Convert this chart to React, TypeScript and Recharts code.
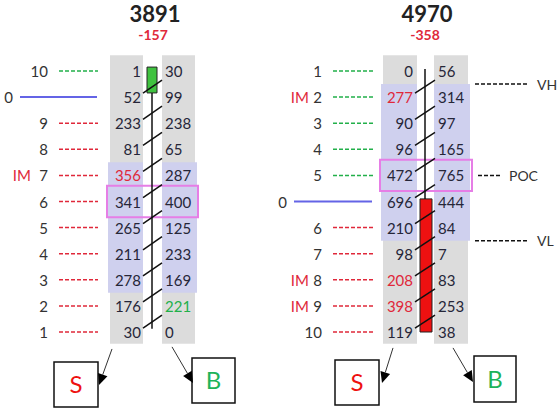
import React from "react";
import { ComposedChart, XAxis, YAxis, ReferenceArea, ReferenceLine, Scatter } from "recharts";

// footprint rows, top row first: sell volume / buy volume
const leftSell = [1, 52, 233, 81, 356, 341, 265, 211, 278, 176, 30];
const leftBuy = [30, 99, 238, 65, 287, 400, 125, 233, 169, 221, 0];
const rightSell = [0, 277, 90, 96, 472, 696, 210, 98, 208, 398, 119];
const rightBuy = [56, 314, 97, 165, 765, 444, 84, 7, 83, 253, 38];

// level captions on the left of each footprint
const leftLevels = ["10", "0", "9", "8", "7", "6", "5", "4", "3", "2", "1"];
const rightLevels = ["1", "2", "3", "4", "5", "0", "6", "7", "8", "9", "10"];
const leftKinds = ["up", "zero", "down", "down", "down", "down", "down", "down", "down", "down", "down"];
const rightKinds = ["up", "up", "up", "up", "up", "zero", "down", "down", "down", "down", "down"];
const leftImRows = [4];
const rightImRows = [1, 8, 9];
const leftBuyHighlight = [9];
const rightBuyHighlight: number[] = [];

const totals = [3891, 4970];
const deltas = [-157, -358];
const valueAreas = [[4, 8], [1, 6]];
const pocRows = [5, 4];

// candle in row units (0 = top row)
const candleHigh = [-0.15, -0.08];
const candleLow = [9.88, 10.0];
const candleOpen = [0.84, 4.9];
const candleClose = [-0.15, 10.0];

const ROW_TOP = 71;
const ROW_PX = 26.1;
const Y_DOMAIN = [-ROW_TOP / ROW_PX, (414 - ROW_TOP) / ROW_PX];

const FONT = "Lato, 'Open Sans', sans-serif";
const INK = "#262638";
const RED = "#e0283a";
const GREEN = "#22b04a";

const layouts = [
  {
    sell: [110, 143], buy: [162, 195], vaSell: [108, 143], vaBuy: [162, 197], poc: [107, 198],
    sellText: 141, buyText: 165, diag: [143, 162], wick: 152, body: [147, 157],
    labelEnd: 48, imEnd: 31, dash: [59, 98], zeroText: 13, zeroLine: [20, 97], title: 155,
    sBox: [54, 98, 11.15, 12.87], bBox: [192, 235, 11.0, 12.72],
    sArrow: [112, 10.65, 99, 12.03], bArrow: [172, 10.57, 193, 11.95],
  },
  {
    sell: [383, 417], buy: [434, 468], vaSell: [381, 417], vaBuy: [434, 470], poc: [380, 472],
    sellText: 413, buyText: 438, diag: [415, 435], wick: 425, body: [420, 432],
    labelEnd: 322, imEnd: 309, dash: [333, 373], zeroText: 287, zeroLine: [294, 372], title: 427,
    sBox: [335, 379, 11.07, 12.8], bBox: [474, 516, 10.92, 12.68],
    sArrow: [393, 10.61, 382, 11.95], bArrow: [453, 10.61, 473, 11.92],
  },
];

const panels = [
  { sell: leftSell, buy: leftBuy, levels: leftLevels, kinds: leftKinds, im: leftImRows, buyHi: leftBuyHighlight },
  { sell: rightSell, buy: rightBuy, levels: rightLevels, kinds: rightKinds, im: rightImRows, buyHi: rightBuyHighlight },
];

type TextItem = { x: number; y: number; text: string; color: string; size: number; weight?: number; anchor: string };

const texts: TextItem[] = [];
panels.forEach((p, k) => {
  const L = layouts[k];
  texts.push({ x: L.title, y: -2.22, text: String(totals[k]), color: "#222", size: 22, weight: 700, anchor: "middle" });
  texts.push({ x: L.title - 2, y: -1.38, text: String(deltas[k]), color: RED, size: 14, weight: 700, anchor: "middle" });
  p.sell.forEach((v, i) => {
    texts.push({ x: L.sellText, y: i, text: String(v), color: p.im.includes(i) ? RED : INK, size: 15, anchor: "end" });
  });
  p.buy.forEach((v, i) => {
    texts.push({ x: L.buyText, y: i, text: String(v), color: p.buyHi.includes(i) ? GREEN : INK, size: 15, anchor: "start" });
  });
  p.levels.forEach((lab, i) => {
    if (p.kinds[i] === "zero") {
      texts.push({ x: L.zeroText, y: i, text: lab, color: "#333", size: 15, anchor: "end" });
    } else {
      texts.push({ x: L.labelEnd, y: i, text: lab, color: "#333", size: 15, anchor: "end" });
      if (p.im.includes(i)) texts.push({ x: L.imEnd, y: i, text: "IM", color: RED, size: 15, anchor: "end" });
    }
  });
});
// value area markers on the right footprint
const markers = [
  { row: 0.5, text: "VH", line: [475, 527], tx: 537 },
  { row: pocRows[1], text: "POC", line: [478, 500], tx: 509 },
  { row: 6.5, text: "VL", line: [475, 527], tx: 537 },
];
markers.forEach((m) => texts.push({ x: m.tx, y: m.row, text: m.text, color: "#333", size: 14, anchor: "start" }));

const TextShape = (props: any) => {
  const d = props.payload as TextItem;
  return (
    <text
      x={props.cx}
      y={props.cy}
      textAnchor={d.anchor as any}
      dominantBaseline="central"
      fill={d.color}
      fontSize={d.size}
      fontWeight={d.weight || 400}
      fontFamily={FONT}
    >
      {d.text}
    </text>
  );
};

const ArrowShape = (props: any) => {
  const { x1, y1, x2, y2 } = props;
  const a = Math.atan2(y2 - y1, x2 - x1);
  const len = 11;
  const hw = 5;
  const bx = x2 - len * Math.cos(a);
  const by = y2 - len * Math.sin(a);
  const px = -Math.sin(a) * hw;
  const py = Math.cos(a) * hw;
  return (
    <g>
      <line x1={x1} y1={y1} x2={bx} y2={by} stroke="#333" strokeWidth={1} />
      <polygon points={`${x2},${y2} ${bx + px},${by + py} ${bx - px},${by - py}`} fill="#000" />
    </g>
  );
};

export default function App() {
  return (
    <div style={{ width: 560, height: 414, background: "#fff", fontFamily: FONT }}>
      <style>{"body{margin:0}"}</style>
      <ComposedChart width={560} height={414} margin={{ top: 0, right: 0, bottom: 0, left: 0 }}>
        <XAxis type="number" dataKey="x" domain={[0, 560]} allowDataOverflow hide />
        <YAxis type="number" dataKey="y" domain={Y_DOMAIN} allowDataOverflow reversed hide />

        {layouts.map((L, k) => (
          <React.Fragment key={`bg${k}`}>
            <ReferenceArea x1={L.sell[0]} x2={L.sell[1]} y1={-0.6} y2={10.45} fill="#dcdcdc" fillOpacity={1} />
            <ReferenceArea x1={L.buy[0]} x2={L.buy[1]} y1={-0.6} y2={10.45} fill="#dcdcdc" fillOpacity={1} />
            <ReferenceArea x1={L.vaSell[0]} x2={L.vaSell[1]} y1={valueAreas[k][0] - 0.5} y2={valueAreas[k][1] + 0.5} fill="#cfd0ee" fillOpacity={1} />
            <ReferenceArea x1={L.vaBuy[0]} x2={L.vaBuy[1]} y1={valueAreas[k][0] - 0.5} y2={valueAreas[k][1] + 0.5} fill="#cfd0ee" fillOpacity={1} />
            <ReferenceArea x1={L.poc[0]} x2={L.poc[1]} y1={pocRows[k] - 0.6} y2={pocRows[k] + 0.6} fill="none" stroke="#e67ee6" strokeWidth={2} />
            <ReferenceArea
              x1={L.body[0]}
              x2={L.body[1]}
              y1={candleOpen[k]}
              y2={candleClose[k]}
              fill={candleClose[k] < candleOpen[k] ? "#3fc23f" : "#ee1111"}
              fillOpacity={1}
              stroke="#222"
              strokeWidth={1}
            />
            <ReferenceArea x1={L.sBox[0]} x2={L.sBox[1]} y1={L.sBox[2]} y2={L.sBox[3]} fill="#fff" fillOpacity={1} stroke="#111" strokeWidth={1.5}
              label={{ value: "S", position: "center", fill: "#ee1111", fontSize: 24, fontFamily: FONT }} />
            <ReferenceArea x1={L.bBox[0]} x2={L.bBox[1]} y1={L.bBox[2]} y2={L.bBox[3]} fill="#fff" fillOpacity={1} stroke="#111" strokeWidth={1.5}
              label={{ value: "B", position: "center", fill: "#1db35a", fontSize: 24, fontFamily: FONT }} />
          </React.Fragment>
        ))}

        {layouts.map((L, k) => {
          const top = Math.min(candleOpen[k], candleClose[k]);
          const bottom = Math.max(candleOpen[k], candleClose[k]);
          return (
            <React.Fragment key={`wick${k}`}>
              {candleHigh[k] < top - 0.01 && (
                <ReferenceLine segment={[{ x: L.wick, y: candleHigh[k] }, { x: L.wick, y: top }]} stroke="#111" strokeWidth={1.5} />
              )}
              {candleLow[k] > bottom + 0.01 && (
                <ReferenceLine segment={[{ x: L.wick, y: bottom }, { x: L.wick, y: candleLow[k] }]} stroke="#111" strokeWidth={1.5} />
              )}
            </React.Fragment>
          );
        })}

        {layouts.map((L, k) =>
          panels[k].sell.slice(1).map((_, i) => (
            <ReferenceLine
              key={`d${k}-${i}`}
              segment={[{ x: L.diag[0], y: i + 1 - 0.15 }, { x: L.diag[1], y: i + 0.35 }]}
              stroke="#111"
              strokeWidth={1.5}
            />
          ))
        )}

        {layouts.map((L, k) =>
          panels[k].kinds.map((kind, i) =>
            kind === "zero" ? (
              <ReferenceLine key={`l${k}-${i}`} segment={[{ x: L.zeroLine[0], y: i }, { x: L.zeroLine[1], y: i }]} stroke="#6464e6" strokeWidth={2} />
            ) : (
              <ReferenceLine
                key={`l${k}-${i}`}
                segment={[{ x: L.dash[0], y: i }, { x: L.dash[1], y: i }]}
                stroke={kind === "up" ? GREEN : RED}
                strokeWidth={1.5}
                strokeDasharray="4 2"
              />
            )
          )
        )}

        {markers.map((m, i) => (
          <ReferenceLine key={`m${i}`} segment={[{ x: m.line[0], y: m.row }, { x: m.line[1], y: m.row }]} stroke="#111" strokeWidth={1.5} strokeDasharray="4 2" />
        ))}

        {layouts.map((L, k) => (
          <React.Fragment key={`ar${k}`}>
            <ReferenceLine segment={[{ x: L.sArrow[0], y: L.sArrow[1] }, { x: L.sArrow[2], y: L.sArrow[3] }]} shape={ArrowShape} />
            <ReferenceLine segment={[{ x: L.bArrow[0], y: L.bArrow[1] }, { x: L.bArrow[2], y: L.bArrow[3] }]} shape={ArrowShape} />
          </React.Fragment>
        ))}

        <Scatter data={texts} shape={TextShape} isAnimationActive={false} />
      </ComposedChart>
    </div>
  );
}
